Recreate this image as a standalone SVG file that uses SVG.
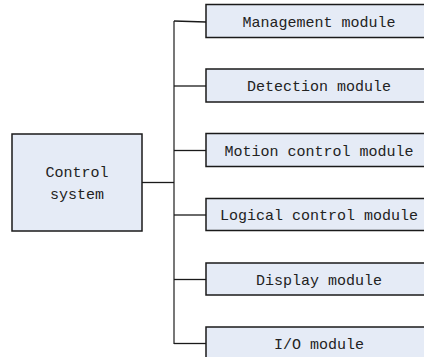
<svg xmlns="http://www.w3.org/2000/svg" width="424" height="357" viewBox="0 0 424 357">
<style>
.box{fill:#E5EBF6;stroke:#1a1a1a;stroke-width:1.5}
.lbl{font-family:"Liberation Mono","DejaVu Sans Mono",monospace;font-size:15px;fill:#222;text-anchor:middle}
.ln{fill:none;stroke:#1a1a1a;stroke-width:1.3}
.trunk{fill:none;stroke:#777;stroke-width:2}
</style>
<rect width="424" height="357" fill="#fff"/>
<g id="connectors">
<line class="trunk" x1="174" y1="21" x2="174" y2="344"/>
<line class="ln" x1="142" y1="182.5" x2="174" y2="182.5"/>
<line class="ln" x1="174" y1="21" x2="206" y2="22"/>
<line class="ln" x1="174" y1="86" x2="206" y2="86"/>
<line class="ln" x1="174" y1="150.5" x2="206" y2="150.5"/>
<line class="ln" x1="174" y1="215" x2="206" y2="215"/>
<line class="ln" x1="174" y1="279.5" x2="206" y2="279.5"/>
<line class="ln" x1="174" y1="343.5" x2="206" y2="343.5"/>
</g>
<g id="control-system">
<rect class="box" x="12" y="134" width="130" height="97"/>
<text class="lbl" x="77" y="177">Control</text>
<text class="lbl" x="77" y="199">system</text>
</g>
<g id="management-module">
<rect class="box" x="206" y="4.5" width="226" height="33"/>
<text class="lbl" x="319" y="26.5">Management module</text>
</g>
<g id="detection-module">
<rect class="box" x="206" y="69" width="226" height="33"/>
<text class="lbl" x="319" y="91">Detection module</text>
</g>
<g id="motion-control-module">
<rect class="box" x="206" y="133.5" width="226" height="33"/>
<text class="lbl" x="319" y="155.5">Motion control module</text>
</g>
<g id="logical-control-module">
<rect class="box" x="206" y="198.5" width="226" height="32"/>
<text class="lbl" x="319" y="220">Logical control module</text>
</g>
<g id="display-module">
<rect class="box" x="206" y="263" width="226" height="32"/>
<text class="lbl" x="319" y="284.5">Display module</text>
</g>
<g id="io-module">
<rect class="box" x="206" y="327" width="226" height="40"/>
<text class="lbl" x="319" y="349">I/O module</text>
</g>
</svg>
